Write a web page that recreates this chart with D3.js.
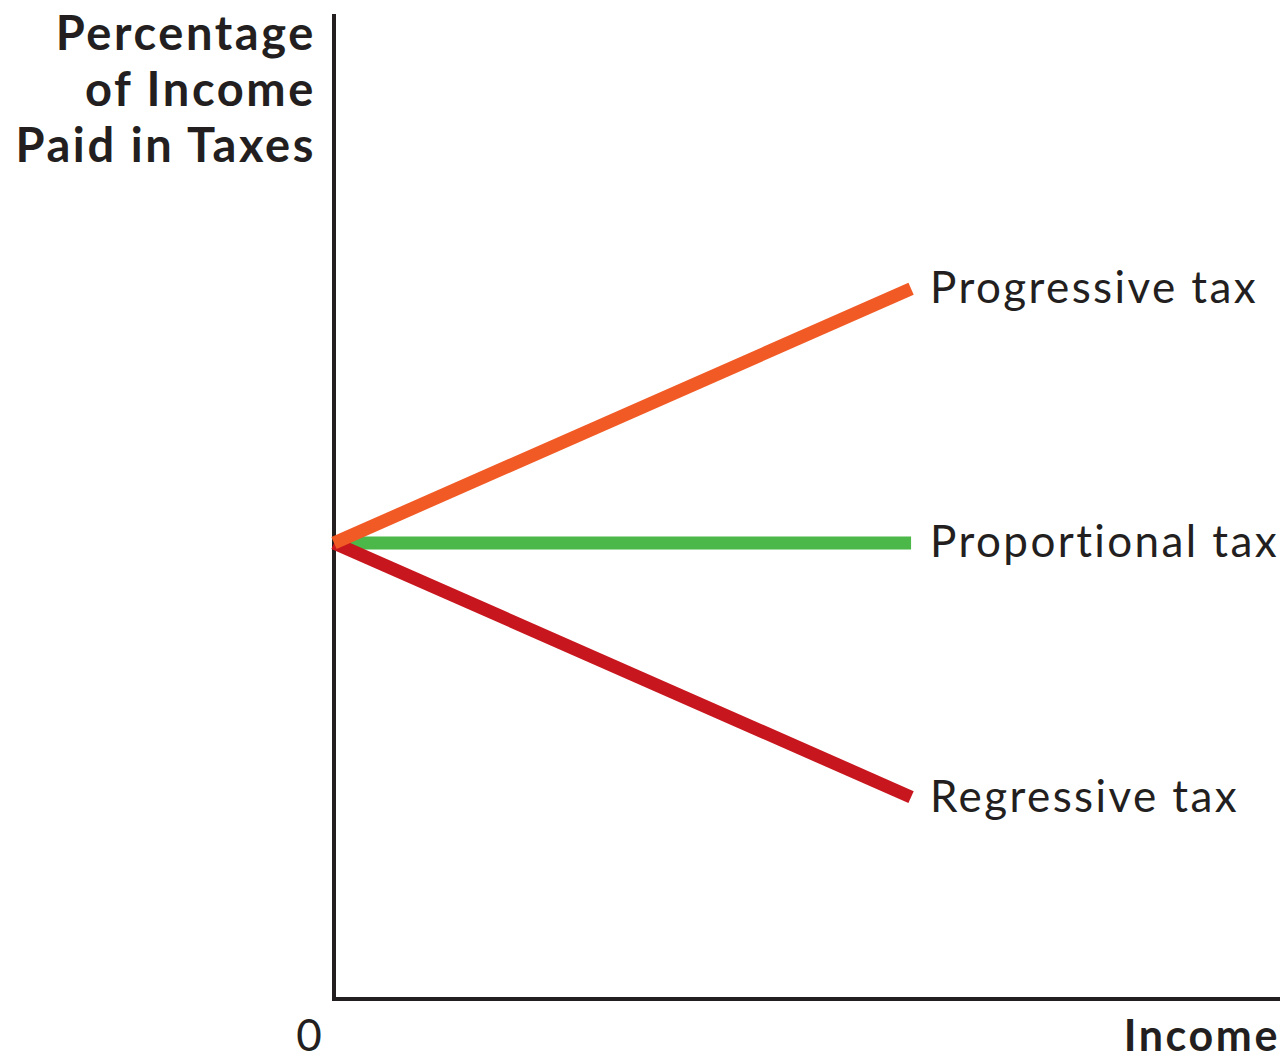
<!DOCTYPE html>
<html>
<head>
<meta charset="utf-8">
<script src="https://cdn.jsdelivr.net/npm/d3@7"></script>
<style>
  html, body { margin: 0; padding: 0; background: #fff; }
  svg { display: block; }
  text { font-family: Lato, "Open Sans", sans-serif; fill: #231f20; }
</style>
</head>
<body>
<svg id="chart" width="1283" height="1060"></svg>
<script>
// Income runs from 0 to 100 along the x axis; tax share from 0 to 100 on y.
const incomeRange = [0, 61];
const taxNames = ["Progressive tax", "Proportional tax", "Regressive tax"];
const taxStart = [46.3, 46.3, 46.3];
const taxEnd = [72.1, 46.3, 20.5];
const taxColors = ["#f15a24", "#4bb849", "#c8161e"];
const yTitleLines = ["Percentage", "of Income", "Paid in Taxes"];
const xTitle = "Income";
const originLabel = "0";

const svg = d3.select("#chart");
const x = d3.scaleLinear().domain([0, 100]).range([334, 1280]);
const y = d3.scaleLinear().domain([0, 100]).range([999, 14]);

// Axes: plain L-shaped frame with no ticks
svg.append("path")
  .attr("d", d3.line()([[x(0), y(100)], [x(0), y(0)], [x(100), y(0)]]))
  .attr("fill", "none")
  .attr("stroke", "#231f20")
  .attr("stroke-width", 4)
  .attr("stroke-linejoin", "miter");

const series = taxNames.map((name, i) => ({
  name,
  color: taxColors[i],
  pts: [[incomeRange[0], taxStart[i]], [incomeRange[1], taxEnd[i]]]
}));

const line = d3.line().x(d => x(d[0])).y(d => y(d[1]));

// draw proportional first, then regressive, then progressive on top
const order = [1, 2, 0];
svg.append("g").selectAll("path")
  .data(order.map(i => series[i]))
  .join("path")
  .attr("d", d => line(d.pts))
  .attr("fill", "none")
  .attr("stroke", d => d.color)
  .attr("stroke-width", 13)
  .attr("stroke-linecap", "butt");

// Line labels at the right-hand end of each line
svg.append("g").selectAll("text")
  .data(series)
  .join("text")
  .attr("x", d => x(d.pts[1][0]) + 19)
  .attr("y", d => y(d.pts[1][1]))
  .attr("dy", "0.33em")
  .attr("font-size", 44)
  .attr("letter-spacing", 2.4)
  .text(d => d.name);

// Y axis title, right-aligned beside the axis
svg.append("g").selectAll("text")
  .data(yTitleLines)
  .join("text")
  .attr("x", 316)
  .attr("y", (d, i) => 50 + i * 56)
  .attr("text-anchor", "end")
  .attr("font-size", 47)
  .attr("font-weight", 700)
  .attr("letter-spacing", 2.6)
  .text(d => d);

// X axis title and origin label
svg.append("text")
  .attr("x", 1280)
  .attr("y", 1051)
  .attr("text-anchor", "end")
  .attr("font-size", 43)
  .attr("font-weight", 700)
  .attr("letter-spacing", 2.6)
  .text(xTitle);

svg.append("text")
  .attr("x", 309)
  .attr("y", 1051)
  .attr("text-anchor", "middle")
  .attr("font-size", 44)
  .text(originLabel);
</script>
</body>
</html>
